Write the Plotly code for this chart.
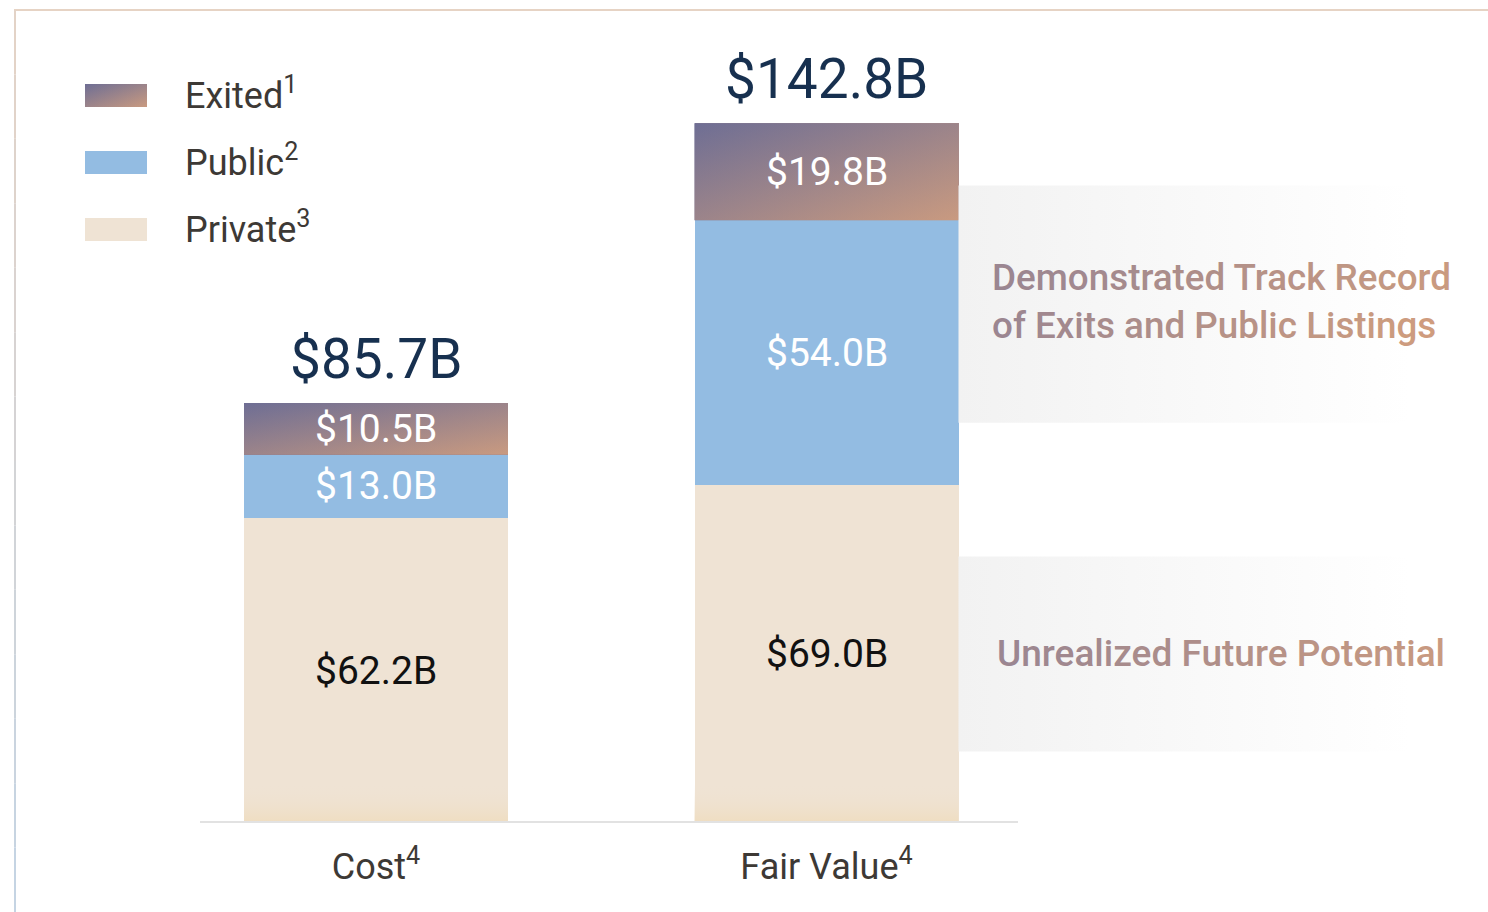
import plotly.graph_objects as go

# ---- data ($B) ----
categories = ["Cost", "Fair Value"]
category_notes = ["4", "4"]
private_vals = [62.2, 69.0]
public_vals = [13.0, 54.0]
exited_vals = [10.5, 19.8]
series_names = ["Exited", "Public", "Private"]
series_notes = ["1", "2", "3"]
panel_lines = [
    ["Demonstrated Track Record", "of Exits and Public Listings"],
    ["Unrealized Future Potential"],
]

# ---- page geometry ----
W, H = 1488, 912
BOTTOM = 89
PLOT_H = H - BOTTOM
UNIT_X = 450.5        # px between category centres
ORIGIN_X = 376        # px of first category centre
UNIT_Y = 4.9          # px per $1B
BAR_W = 264 / UNIT_X

FONT = "Roboto, 'Liberation Sans', Arial, sans-serif"
TEXT_GREY = "#3d3935"
NAVY = "#17304f"
PUBLIC_C = "#93bce2"
PRIVATE_C = "#efe3d4"
EXIT_A = (110, 110, 148)   # violet corner
EXIT_B = (201, 154, 128)   # sand corner
EXIT_MID = "#9c8690"
TXT_A = (155, 134, 145)
TXT_B = (201, 154, 128)


def rgb(c, a=None):
    if a is None:
        return "rgb(%d,%d,%d)" % c
    return "rgba(%d,%d,%d,%.3f)" % (c[0], c[1], c[2], a)


def mix(a, b, t):
    return tuple(round(a[k] + (b[k] - a[k]) * t) for k in range(3))


def dx(px):
    return (px - ORIGIN_X) / UNIT_X


def dy(py):
    return (PLOT_H - py) / UNIT_Y


def paper_x(px):
    return px / W


def paper_y(py):
    return (PLOT_H - py) / PLOT_H


def grad_rect(x0, x1, y0, y1, kind, scale, opacity=1.0):
    return go.Scatter(
        x=[x0, x1, x1, x0, x0], y=[y0, y0, y1, y1, y0],
        mode="none", fill="toself",
        fillgradient=dict(type=kind, colorscale=scale),
        opacity=opacity, hoverinfo="skip", showlegend=False,
    )


xs = list(range(len(categories)))
fig = go.Figure()

# stacked bars
fig.add_trace(go.Bar(x=xs, y=private_vals, name=series_names[2], marker=dict(color=PRIVATE_C, line=dict(width=0)), width=BAR_W, hoverinfo="skip"))
fig.add_trace(go.Bar(x=xs, y=public_vals, name=series_names[1], marker=dict(color=PUBLIC_C, line=dict(width=0)), width=BAR_W, hoverinfo="skip"))
fig.add_trace(go.Bar(x=xs, y=exited_vals, name=series_names[0], marker=dict(color=EXIT_MID, line=dict(width=0)), width=BAR_W, hoverinfo="skip"))

# diagonal sheen on the exited segments: horizontal ramp + half-opacity vertical ramp
for i in xs:
    base = private_vals[i] + public_vals[i]
    top = base + exited_vals[i]
    x0, x1 = i - BAR_W / 2, i + BAR_W / 2
    fig.add_trace(grad_rect(x0, x1, base, top, "horizontal", [[0, rgb(EXIT_A)], [1, rgb(EXIT_B)]]))
    fig.add_trace(grad_rect(x0, x1, base, top, "vertical", [[0, rgb(EXIT_B)], [1, rgb(EXIT_A)]], 0.5))
    # warm fade at the foot of the private segment
    fig.add_trace(grad_rect(x0, x1, 0, 8, "vertical", [[0, "rgba(239,221,192,1)"], [1, "rgba(239,227,212,0)"]]))

# soft grey bands beside the fair-value bar
fv = 1
band_right = dx(1410)
upper_mid = private_vals[fv] + (public_vals[fv] + exited_vals[fv]) / 2
lower_mid = private_vals[fv] / 2
bands = [(upper_mid, 24.2), (lower_mid, 19.9)]
for mid, half in bands:
    fig.add_trace(grad_rect(fv + BAR_W / 2, band_right, mid - half, mid + half, "horizontal",
                            [[0, "#f2f2f2"], [1, "#ffffff"]]))

annotations = []

# totals above bars
for i in xs:
    total = private_vals[i] + public_vals[i] + exited_vals[i]
    annotations.append(dict(x=i, y=total, xref="x", yref="y", text="$%.1fB" % total, showarrow=False,
                            yanchor="middle", yshift=44, font=dict(family=FONT, size=55, color=NAVY)))

# segment values
for i in xs:
    segs = [(private_vals[i], 0, "#111111"),
            (public_vals[i], private_vals[i], "#ffffff"),
            (exited_vals[i], private_vals[i] + public_vals[i], "#ffffff")]
    for v, b, col in segs:
        annotations.append(dict(x=i, y=b + v / 2, xref="x", yref="y", text="$%.1fB" % v, showarrow=False,
                                font=dict(family=FONT, size=39, color=col)))

# legend
legend_y = [95.5, 162.5, 229.5]
shapes = []
for k, name in enumerate(series_names):
    cy = legend_y[k]
    if k == 0:
        fig.add_trace(grad_rect(dx(85), dx(147), dy(cy + 11.5), dy(cy - 11.5), "horizontal",
                                [[0, rgb(EXIT_A)], [1, rgb(EXIT_B)]]))
        fig.add_trace(grad_rect(dx(85), dx(147), dy(cy + 11.5), dy(cy - 11.5), "vertical",
                                [[0, rgb(EXIT_B)], [1, rgb(EXIT_A)]], 0.5))
    else:
        shapes.append(dict(type="rect", xref="paper", yref="paper", x0=paper_x(85), x1=paper_x(147),
                           y0=paper_y(cy + 11.5), y1=paper_y(cy - 11.5), line=dict(width=0),
                           fillcolor=PUBLIC_C if k == 1 else PRIVATE_C, layer="above"))
    annotations.append(dict(x=paper_x(183), y=paper_y(cy - 2), xref="paper", yref="paper", xanchor="left",
                            yanchor="middle", showarrow=False,
                            text="%s<sup>%s</sup>" % (name, series_notes[k]),
                            font=dict(family=FONT, size=36, color=TEXT_GREY)))


def ramp_text(line, n):
    out = []
    for j, ch in enumerate(line):
        if ch == " ":
            out.append(" ")
            continue
        c = mix(TXT_A, TXT_B, j / max(n - 1, 1))
        out.append('<span style="color:%s">%s</span>' % (rgb(c), ch))
    return "".join(out)


n1 = len(panel_lines[0][0])
txt_upper = "<br>".join(ramp_text(l, n1) for l in panel_lines[0])
annotations.append(dict(x=paper_x(990), y=paper_y(301), xref="paper", yref="paper", xanchor="left",
                        yanchor="middle", align="left", showarrow=False, text=txt_upper,
                        font=dict(family=FONT, size=36.8, weight=500, color=rgb(TXT_A))))
txt_lower = ramp_text(panel_lines[1][0], len(panel_lines[1][0]))
annotations.append(dict(x=paper_x(1221), y=paper_y(653), xref="paper", yref="paper", xanchor="center",
                        yanchor="middle", showarrow=False, text=txt_lower,
                        font=dict(family=FONT, size=37, weight=500, color=rgb(TXT_A))))

# baseline
shapes.append(dict(type="line", xref="paper", yref="paper", x0=paper_x(200), x1=paper_x(1018),
                   y0=paper_y(822), y1=paper_y(822), line=dict(color="#e2e2e2", width=2), layer="above"))

# frame: top rule and left rule fading from sand to pale blue
shapes.append(dict(type="line", xref="paper", yref="paper", x0=paper_x(14), x1=1,
                   y0=paper_y(10), y1=paper_y(10), line=dict(color="#e6d3c4", width=2)))
frame_top, frame_bot = (228, 211, 198), (196, 212, 228)
steps = 14
for s in range(steps):
    ya = 10 + (H - 10) * s / steps
    yb = 10 + (H - 10) * (s + 1) / steps
    c = mix(frame_top, frame_bot, (s + 0.5) / steps)
    shapes.append(dict(type="line", xref="paper", yref="paper", x0=paper_x(15), x1=paper_x(15),
                       y0=paper_y(ya), y1=paper_y(yb), line=dict(color=rgb(c), width=2)))

fig.update_layout(
    width=W, height=H,
    margin=dict(l=0, r=0, t=0, b=BOTTOM, pad=0),
    barmode="stack", bargap=0,
    plot_bgcolor="white", paper_bgcolor="white",
    showlegend=False,
    font=dict(family=FONT, color=TEXT_GREY),
    xaxis=dict(range=[dx(0), dx(W)], tickvals=xs,
               ticktext=["%s<sup>%s</sup>" % (c, n) for c, n in zip(categories, category_notes)],
               tickfont=dict(family=FONT, size=36, color=TEXT_GREY),
               ticks="outside", ticklen=12, tickcolor="rgba(0,0,0,0)",
               showgrid=False, zeroline=False, showline=False, fixedrange=True),
    yaxis=dict(range=[0, PLOT_H / UNIT_Y], visible=False, fixedrange=True),
    annotations=annotations,
    shapes=shapes,
)

fig.write_html("out.html", config=dict(displayModeBar=False))
